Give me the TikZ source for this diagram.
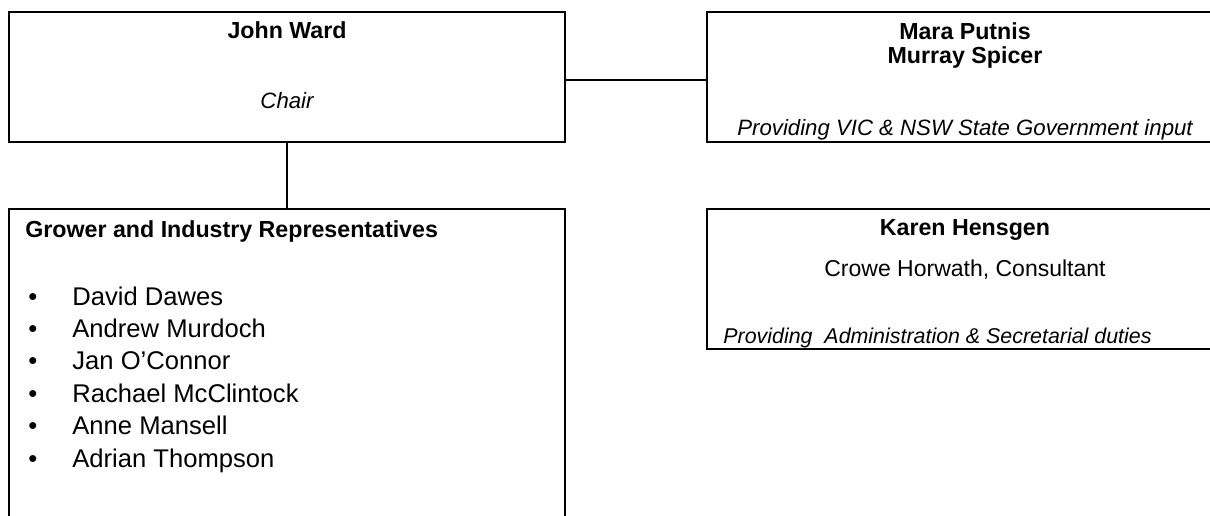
\documentclass[tikz,border=0pt]{standalone}
\usepackage{fontspec}
\setmainfont{Liberation Sans}
\usepackage{tikz}

\begin{document}
\begin{tikzpicture}[x=0.5pt, y=-0.5pt,
%
    box/.style={draw, line width=1pt, inner sep=0pt},
    link/.style={line width=1pt},
    person/.style={inner sep=0pt, anchor=base, font=\bfseries\fontsize{11.6}{14}\selectfont},
    post/.style={inner sep=0pt, anchor=base, font=\fontsize{11.5}{14}\selectfont},
    duty/.style={inner sep=0pt, anchor=base, font=\itshape\fontsize{11.1}{13}\selectfont},
    member/.style={inner sep=0pt, anchor=base west, font=\fontsize{12.8}{15}\selectfont},
                        ]
    \useasboundingbox (0,0) rectangle (1210,515);
    \clip (0,0) rectangle (1210,515);

    % boxes
    \node[box, minimum width=278pt, minimum height=65pt]    (chair_box)   at (287,77)    {};
    \node[box, minimum width=258pt, minimum height=65pt]    (state_box)   at (965,77)    {};
    \node[box, minimum width=278pt, minimum height=175.5pt] (grower_box)  at (287,384.5) {};
    \node[box, minimum width=258pt, minimum height=70pt]    (admin_box)   at (965,279)   {};

    \draw[link] ([yshift=-1.5pt]chair_box.east) -- ([yshift=-1.5pt]state_box.west);
    \draw[link] (chair_box.south) -- (grower_box.north);

    % chair
    \node[person] (ward_name)  at (287,38)  {John Ward};
    \node[duty]   (ward_role)  at (287,108) {Chair};

    % state government
    \node[person] (putnis_name) at (965,39)  {Mara Putnis};
    \node[person] (spicer_name) at (965,63)  {Murray Spicer};
    \node[duty]   (state_role)  at (965,135) {Providing VIC \& NSW State Government input};

    % secretariat
    \node[person] (hensgen_name) at (965,235) {Karen Hensgen};
    \node[post]   (hensgen_post) at (965,276) {Crowe Horwath, Consultant};
    \node[duty, anchor=base west, font=\itshape\fontsize{10.7}{13}\selectfont]
                  (admin_role)   at (723,343) {Providing~ Administration \& Secretarial duties};

    % growers
    \node[person, anchor=base west] (grower_head) at (25,237) {Grower and Industry Representatives};
    \node[member] (dawes)     at (72,305)   {\llap{\textbullet\hspace{17.5pt}}David Dawes};
    \node[member] (murdoch)   at (72,337.4) {\llap{\textbullet\hspace{17.5pt}}Andrew Murdoch};
    \node[member] (oconnor)   at (72,369.8) {\llap{\textbullet\hspace{17.5pt}}Jan O’Connor};
    \node[member] (mcclintock) at (72,402.2) {\llap{\textbullet\hspace{17.5pt}}Rachael McClintock};
    \node[member] (mansell)   at (72,434.6) {\llap{\textbullet\hspace{17.5pt}}Anne Mansell};
    \node[member] (thompson)  at (72,467)   {\llap{\textbullet\hspace{17.5pt}}Adrian Thompson};

\end{tikzpicture}
\end{document}
